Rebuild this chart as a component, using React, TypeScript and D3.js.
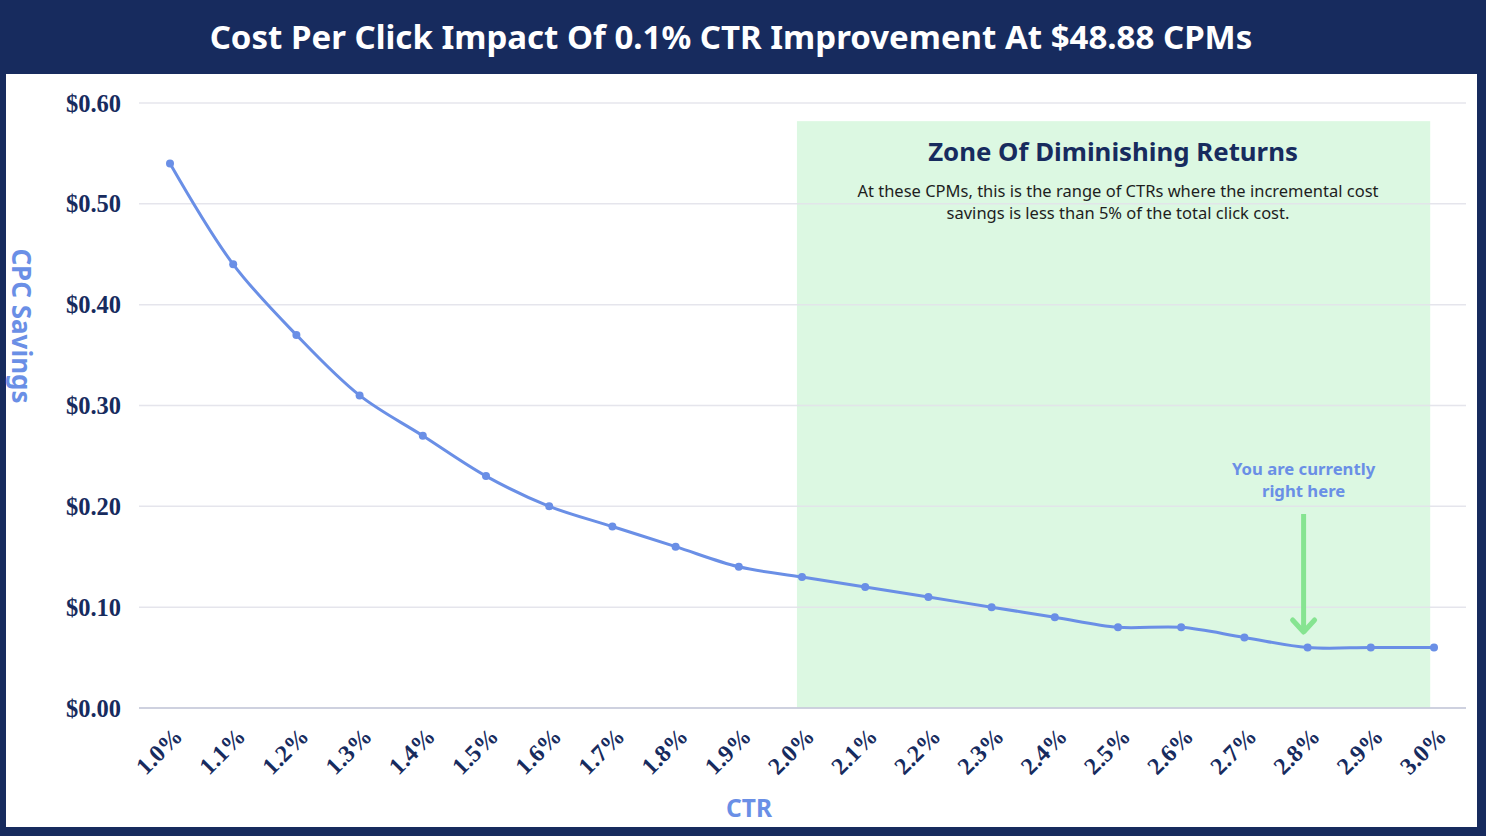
import React from "react";
import * as d3 from "d3";

const ctrLabels = ["1.0%","1.1%","1.2%","1.3%","1.4%","1.5%","1.6%","1.7%","1.8%","1.9%","2.0%","2.1%","2.2%","2.3%","2.4%","2.5%","2.6%","2.7%","2.8%","2.9%","3.0%"];
const ctrValues = [1.0,1.1,1.2,1.3,1.4,1.5,1.6,1.7,1.8,1.9,2.0,2.1,2.2,2.3,2.4,2.5,2.6,2.7,2.8,2.9,3.0];
const cpcSavings = [0.54,0.44,0.37,0.31,0.27,0.23,0.20,0.18,0.16,0.14,0.13,0.12,0.11,0.10,0.09,0.08,0.08,0.07,0.06,0.06,0.06];
const yTicks = [0, 0.1, 0.2, 0.3, 0.4, 0.5, 0.6];
const zoneRange = [1.992, 2.994];
const zoneTop = 0.582;
const currentCtr = 2.8;

const NAVY = "#172b5e";
const BLUE = "#6a8fe6";
const GREEN_FILL = "#dcf8e2";
const ARROW_GREEN = "#86e491";

export default function App() {
  const W = 1486, H = 836;
  const x = d3.scaleLinear().domain([1.0, 3.0]).range([170, 1434]);
  const y = d3.scaleLinear().domain([0, 0.6]).range([708, 103]);
  const pts: [number, number][] = ctrValues.map((c, i) => [x(c), y(cpcSavings[i])]);
  const line = d3.line().curve(d3.curveCatmullRom.alpha(0.5))(pts) || "";
  const ax = x(currentCtr);
  const serif = "'Liberation Serif', 'DejaVu Serif', serif";
  const sans = "'Noto Sans', 'Open Sans', sans-serif";
  return (
    <svg width={W} height={H} style={{ position: "absolute", left: 0, top: 0 }}>
      <rect x={0} y={0} width={W} height={H} fill={NAVY} />
      <rect x={6} y={74} width={1471} height={753} fill="#ffffff" />
      <text x={731} y={49} textAnchor="middle" fill="#ffffff" fontFamily={sans} fontWeight={700} fontSize={33}>
        Cost Per Click Impact Of 0.1% CTR Improvement At $48.88 CPMs
      </text>
      <rect x={x(zoneRange[0])} y={y(zoneTop)} width={x(zoneRange[1]) - x(zoneRange[0])} height={y(0) - y(zoneTop)} fill={GREEN_FILL} />
      {yTicks.map((t) => (
        <g key={t}>
          <line x1={139} x2={1466} y1={y(t)} y2={y(t)} stroke={t === 0 ? "#c9ccdc" : "#e2e2ea"} strokeOpacity={0.9} strokeWidth={t === 0 ? 2 : 1.5} />
          <text x={121} y={y(t)} dy="0.35em" textAnchor="end" fill={NAVY} fontFamily={serif} fontWeight={700} fontSize={24.5}>
            {d3.format("$.2f")(t)}
          </text>
        </g>
      ))}
      {ctrValues.map((c, i) => (
        <text key={c} transform={`translate(${x(c) + 2},${726}) rotate(-45)`} textAnchor="end" dy="0.7em" fill={NAVY} fontFamily={serif} fontWeight={700} fontSize={24}>
          {ctrLabels[i]}
        </text>
      ))}
      <text x={1113} y={161} textAnchor="middle" fill={NAVY} fontFamily={sans} fontWeight={700} fontSize={25.8}>
        Zone Of Diminishing Returns
      </text>
      <text x={1118} y={197} textAnchor="middle" fill="#1e1e1e" fontFamily={sans} fontSize={16.5}>
        At these CPMs, this is the range of CTRs where the incremental cost
      </text>
      <text x={1118} y={219} textAnchor="middle" fill="#1e1e1e" fontFamily={sans} fontSize={16.5}>
        savings is less than 5% of the total click cost.
      </text>
      <path d={line} fill="none" stroke={BLUE} strokeWidth={3} />
      {pts.map((p, i) => (
        <circle key={i} cx={p[0]} cy={p[1]} r={4} fill={BLUE} />
      ))}
      <text x={ax - 4} y={475} textAnchor="middle" fill={BLUE} fontFamily={sans} fontWeight={700} fontSize={16.7}>
        You are currently
      </text>
      <text x={ax - 4} y={497} textAnchor="middle" fill={BLUE} fontFamily={sans} fontWeight={700} fontSize={16.7}>
        right here
      </text>
      <line x1={ax - 4} x2={ax - 4} y1={514} y2={632} stroke={ARROW_GREEN} strokeWidth={5} />
      <polyline points={`${ax - 15},${620} ${ax - 4},${632} ${ax + 7},${620}`} fill="none" stroke={ARROW_GREEN} strokeWidth={5} strokeLinecap="round" strokeLinejoin="round" />
      <text x={749} y={817} textAnchor="middle" fill={BLUE} fontFamily={sans} fontWeight={700} fontSize={24.5}>
        CTR
      </text>
      <text transform={`translate(${12},${326}) rotate(90)`} textAnchor="middle" fill={BLUE} fontFamily={sans} fontWeight={700} fontSize={26}>
        CPC Savings
      </text>
    </svg>
  );
}
